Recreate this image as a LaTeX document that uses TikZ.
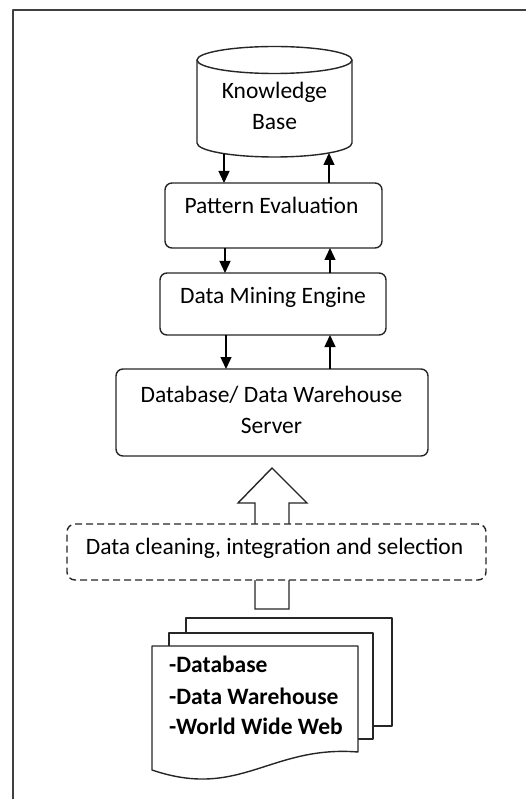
\documentclass[tikz,border=0pt]{standalone}
\usepackage{fontspec}
\setmainfont{Carlito}
\usetikzlibrary{arrows.meta}
\begin{document}
\begin{tikzpicture}[x=1pt,y=-1pt,line join=round,
  boxline/.style={draw=black!85, line width=1.4pt},
  rbox/.style={boxline, rounded corners=7pt, inner sep=0pt, outer sep=0pt},
  lbl/.style={font=\fontsize{23.5}{28}\selectfont, inner sep=0pt, anchor=base},
  srclbl/.style={font=\fontsize{23.5}{28}\selectfont\bfseries, inner sep=0pt, anchor=base west},
  arr/.style={draw=black, line width=1.4pt, -{Triangle[length=12pt,width=11pt]}}]
\useasboundingbox (0,0) rectangle (525,799);
% outer frame
\draw[draw=black!75, line width=1.8pt] (13,805) -- (13,10) -- (530,10);
% knowledge base cylinder
\draw[boxline, fill=white] (197,60) -- (197,143) arc[start angle=180,end angle=360,x radius=77.5pt,y radius=14pt] -- (352,60);
\draw[boxline, fill=white] (274.5,60) ellipse[x radius=77.5pt, y radius=13.5pt];
\node[lbl] (kb) at (274.5,99) {Knowledge};
\node[lbl] (kb2) at (274.5,130) {Base};
\coordinate (kbL) at (224,153.6);
\coordinate (kbR) at (329,153);
% boxes
\node[rbox, minimum width=217pt, minimum height=65pt] (pe) at (273.5,215.5) {};
\node[lbl] (pet) at (271.5,214) {Pattern Evaluation};
\node[rbox, minimum width=226pt, minimum height=62pt] (dme) at (273,304) {};
\node[lbl] (dmet) at (273,303) {Data Mining Engine};
\node[rbox, minimum width=312pt, minimum height=87pt] (db) at (272,412.5) {};
\node[lbl] (dbt1) at (271.5,402) {Database/ Data Warehouse};
\node[lbl] (dbt2) at (271.5,433) {Server};
% arrows
\draw[arr] (kbL) -- (kbL |- pe.north);
\draw[arr] (kbR |- pe.north) -- (kbR);
\draw[arr] (pe.south -| 225,0) -- (dme.north -| 225,0);
\draw[arr] (dme.north -| 330,0) -- (pe.south -| 330,0);
\draw[arr] (dme.south -| 226,0) -- (db.north -| 226,0);
\draw[arr] (db.north -| 330,0) -- (dme.south -| 330,0);
% big hollow arrow
\draw[boxline, fill=white, line join=miter] (272,468) -- (307,503) -- (289,503) -- (289,609) -- (255,609) -- (255,503) -- (238,503) -- cycle;
% dashed box
\node[boxline, dash pattern=on 7pt off 4pt, fill=white, rounded corners=8pt, inner sep=0pt, minimum width=419pt, minimum height=56pt] (clean) at (276.5,552) {};
\node[lbl] (cleant) at (274.5,554) {Data cleaning, integration and selection};
% documents
\draw[boxline, fill=white] (186,618) rectangle (392,726);
\draw[boxline, fill=white] (169,633) rectangle (373,739);
\draw[boxline, fill=white] (152,646) -- (358,646) -- (358,752) .. controls (270,745) and (240,800) .. (152,770) -- cycle;
\node[srclbl] (s1) at (169,672) {-Database};
\node[srclbl] (s2) at (169,704) {-Data Warehouse};
\node[srclbl] (s3) at (169,734) {-World Wide Web};
\end{tikzpicture}
\end{document}
